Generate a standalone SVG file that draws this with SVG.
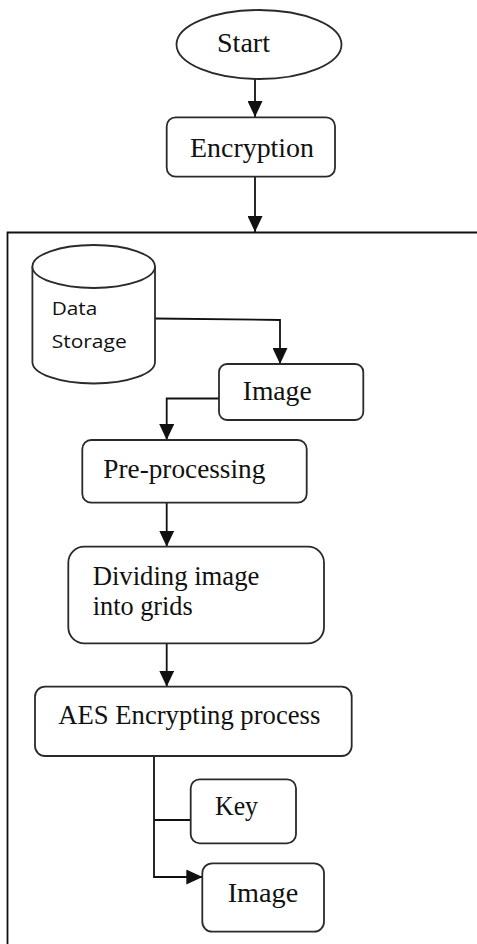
<svg xmlns="http://www.w3.org/2000/svg" width="477" height="944" viewBox="0 0 477 944">
  <style>
    .box { fill: #ffffff; stroke: #2a2a2a; stroke-width: 1.8; }
    .line { fill: none; stroke: #111111; stroke-width: 1.8; }
    .lbl { font-family: "Liberation Serif", "Times New Roman", serif; font-size: 28px; fill: #111111; }
    .sans { font-family: "Open Sans", "Liberation Sans", sans-serif; font-size: 19px; fill: #111111; }
  </style>
  <defs>
    <marker id="arrow" markerUnits="userSpaceOnUse" markerWidth="16" markerHeight="15" refX="16" refY="7.5" orient="auto">
      <path d="M0,0 L16,7.5 L0,15 Z" fill="#111111"/>
    </marker>
  </defs>
  <rect width="477" height="944" fill="#ffffff"/>

  <!-- connectors -->
  <g id="connectors">
    <path class="line" d="M255,79 V117" marker-end="url(#arrow)"/>
    <path class="line" d="M255,177 V232" marker-end="url(#arrow)"/>
    <path class="line" d="M155,318.5 L280,320 V364" marker-end="url(#arrow)"/>
    <path class="line" d="M219,398.5 H166.7 V440" marker-end="url(#arrow)"/>
    <path class="line" d="M166.7,502.7 V546.7" marker-end="url(#arrow)"/>
    <path class="line" d="M166.7,643.3 V686.7" marker-end="url(#arrow)"/>
    <path class="line" d="M154,756 V877 H202.3" marker-end="url(#arrow)"/>
    <path class="line" d="M154,820 H190.7"/>
  </g>

  <!-- enclosing frame, open on the right and bottom -->
  <g id="frame">
    <path class="line" d="M477,232.5 H7.5 V944"/>
  </g>

  <g id="start">
    <ellipse class="box" cx="259" cy="44.5" rx="82.5" ry="34.5"/>
    <text class="lbl" x="217" y="52" textLength="53" lengthAdjust="spacingAndGlyphs">Start</text>
  </g>

  <g id="encryption">
    <rect class="box" x="166.7" y="117.3" width="168.3" height="59.4" rx="9"/>
    <text class="lbl" x="190" y="157" textLength="124" lengthAdjust="spacingAndGlyphs">Encryption</text>
  </g>

  <g id="data-storage">
    <path class="box" d="M32.4,266.5 V362 A61.3,21.5 0 0 0 155,362 V266.5"/>
    <ellipse class="box" cx="93.7" cy="266.5" rx="61.3" ry="21.5"/>
    <text class="sans" x="51.7" y="315" textLength="45.6" lengthAdjust="spacingAndGlyphs">Data</text>
    <text class="sans" x="51.7" y="348" textLength="75" lengthAdjust="spacingAndGlyphs">Storage</text>
  </g>

  <g id="image-in">
    <rect class="box" x="219" y="364" width="144.3" height="56" rx="8"/>
    <text class="lbl" x="242.7" y="400" textLength="69" lengthAdjust="spacingAndGlyphs">Image</text>
  </g>

  <g id="pre-processing">
    <rect class="box" x="82.3" y="440" width="224.4" height="62.7" rx="9"/>
    <text class="lbl" x="103.3" y="478" textLength="162" lengthAdjust="spacingAndGlyphs">Pre-processing</text>
  </g>

  <g id="dividing">
    <rect class="box" x="68.3" y="546.7" width="255.7" height="96.6" rx="16"/>
    <text class="lbl" x="92.7" y="585" textLength="166.7" lengthAdjust="spacingAndGlyphs">Dividing image</text>
    <text class="lbl" x="92.7" y="615" textLength="100" lengthAdjust="spacingAndGlyphs">into grids</text>
  </g>

  <g id="aes">
    <rect class="box" x="35" y="686.7" width="316.7" height="69.3" rx="10"/>
    <text class="lbl" x="58.3" y="724" textLength="262" lengthAdjust="spacingAndGlyphs">AES Encrypting process</text>
  </g>

  <g id="key">
    <rect class="box" x="190.7" y="779.3" width="105.3" height="64" rx="9"/>
    <text class="lbl" x="215" y="815" textLength="43" lengthAdjust="spacingAndGlyphs">Key</text>
  </g>

  <g id="image-out">
    <rect class="box" x="202.3" y="863.3" width="121.7" height="68.4" rx="10"/>
    <text class="lbl" x="227.7" y="901.7" textLength="70.6" lengthAdjust="spacingAndGlyphs">Image</text>
  </g>
</svg>
